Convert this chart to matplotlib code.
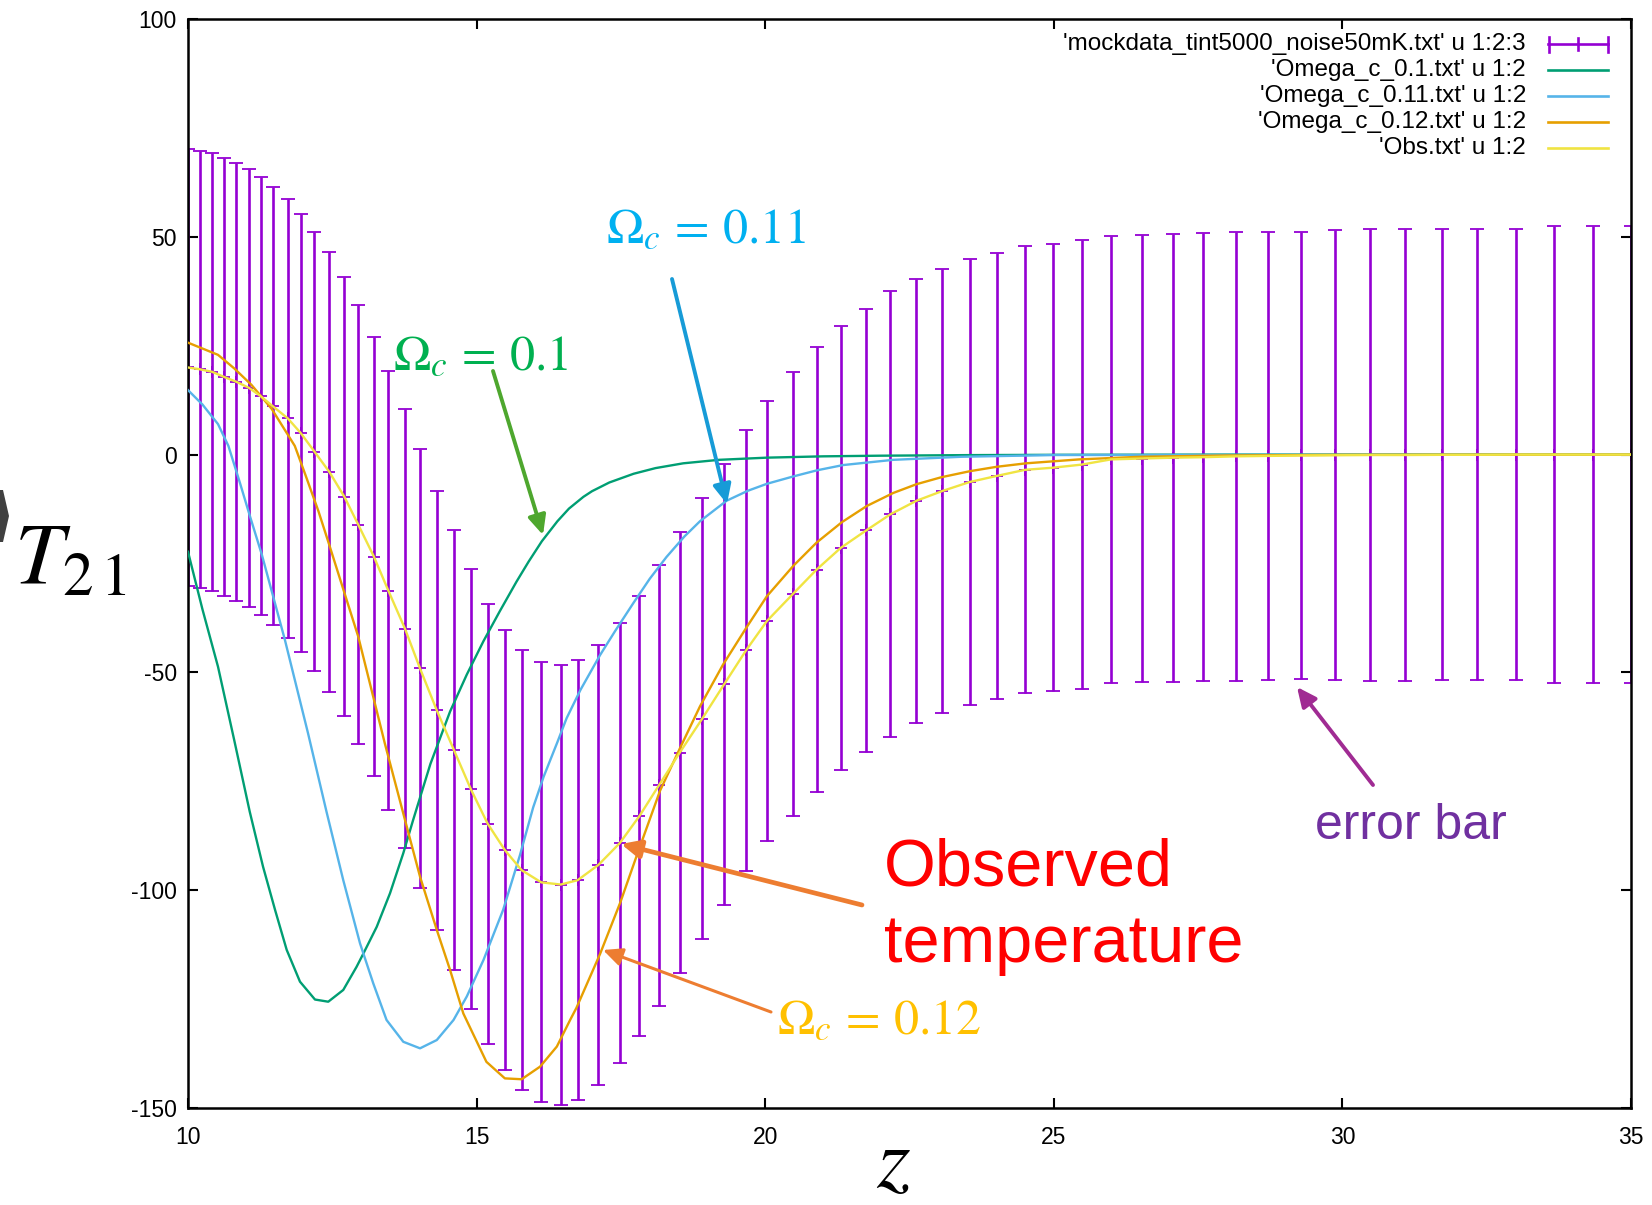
import matplotlib
matplotlib.use('Agg')
import matplotlib.pyplot as plt
from matplotlib.lines import Line2D
from matplotlib.patches import Polygon, FancyArrowPatch

W, H = 1652, 1205
plt.rcParams['axes.unicode_minus'] = False
plt.rcParams['mathtext.fontset'] = 'stix'
plt.rcParams['font.family'] = ['Liberation Sans', 'DejaVu Sans']

# ---------------- data ----------------
z_obs = [10.00, 10.20, 10.42, 10.63, 10.84, 11.06, 11.26, 11.47, 11.73, 11.95,
         12.19, 12.45, 12.71, 12.95, 13.22, 13.47, 13.76, 14.02, 14.31, 14.61,
         14.90, 15.19, 15.49, 15.78, 16.12, 16.46, 16.75, 17.11, 17.48, 17.82,
         18.16, 18.52, 18.91, 19.29, 19.67, 20.03, 20.48, 20.89, 21.31, 21.75,
         22.17, 22.62, 23.06, 23.54, 24.01, 24.50, 24.99, 25.48, 25.99, 26.52,
         27.07, 27.58, 28.16, 28.71, 29.29, 29.87, 30.48, 31.08, 31.72, 32.34,
         33.00, 33.67, 34.34, 35.00]
T_obs = [20.0, 19.6, 19.0, 17.8, 16.7, 15.3, 13.4, 11.1, 8.3, 5.0,
         0.7, -4.0, -9.7, -16.1, -23.4, -31.2, -40.0, -49.1, -58.7, -67.9,
         -76.8, -84.7, -90.8, -95.4, -98.2, -98.7, -97.7, -94.2, -89.2, -83.0,
         -75.9, -68.4, -60.6, -52.7, -44.9, -38.2, -32.0, -26.4, -21.4, -17.4,
         -13.7, -10.6, -8.4, -6.3, -4.9, -3.5, -3.0, -2.3, -1.1, -0.9,
         -0.7, -0.6, -0.4, -0.3, -0.2, -0.15, -0.1, -0.1, -0.05, -0.05,
         0.0, 0.0, 0.0, 0.0]
T_err = [50.2, 50.2, 50.2, 50.2, 50.2, 50.3, 50.3, 50.3, 50.3, 50.3,
         50.4, 50.4, 50.4, 50.4, 50.4, 50.4, 50.4, 50.4, 50.4, 50.5,
         50.5, 50.5, 50.5, 50.5, 50.5, 50.5, 50.5, 50.5, 50.5, 50.5,
         50.6, 50.6, 50.6, 50.6, 50.6, 50.6, 50.9, 51.0, 50.9, 50.9,
         51.2, 51.0, 51.0, 51.2, 51.1, 51.3, 51.3, 51.5, 51.3, 51.2,
         51.4, 51.4, 51.6, 51.4, 51.4, 51.6, 51.8, 51.8, 51.8, 51.8,
         51.8, 52.4, 52.4, 52.4]

z_g = [10.0, 10.25, 10.52, 10.8, 11.07, 11.30, 11.51, 11.71, 11.94, 12.20,
       12.43, 12.69, 12.92, 13.04, 13.27, 13.50, 13.73, 13.90, 14.20, 14.54,
       14.83, 15.12, 15.4, 15.69, 15.9, 16.13, 16.4, 16.6, 16.85, 17.0,
       17.3, 17.72, 18.1, 18.58, 19.2, 20.03, 21.0, 22.0, 23.5, 25.0,
       28.0, 35.0]
T_g = [-22.3, -35.5, -48.7, -65.5, -82.0, -94.6, -104.6, -113.7, -121.0, -125.1,
       -125.6, -122.9, -117.6, -114.5, -108.4, -100.7, -91.5, -83.9, -71.0, -59.0,
       -50.5, -42.8, -36.0, -29.2, -24.6, -19.9, -15.3, -12.4, -9.7, -8.4,
       -6.4, -4.4, -3.1, -2.0, -1.2, -0.7, -0.4, -0.25, -0.12, -0.05,
       0.0, 0.0]

z_b = [10.0, 10.25, 10.52, 10.7, 10.9, 11.07, 11.28, 11.68, 12.08, 12.40,
       12.69, 12.98, 13.21, 13.44, 13.73, 14.02, 14.31, 14.60, 14.83, 15.12,
       15.46, 15.75, 15.98, 16.16, 16.4, 16.56, 16.8, 17.14, 17.4, 17.72,
       18.0, 18.29, 18.6, 18.87, 19.33, 19.7, 20.03, 20.49, 20.9, 21.35,
       22.22, 23.4, 25.0, 35.0]
T_b = [14.8, 11.5, 7.0, 2.0, -6.5, -14.0, -23.0, -42.6, -64.0, -82.0,
       -97.7, -112.2, -121.4, -129.8, -134.8, -136.3, -134.4, -129.8, -124.4, -116.0,
       -104.5, -92.0, -81.0, -74.0, -66.0, -60.5, -54.0, -46.0, -40.5, -34.0,
       -28.5, -23.5, -18.8, -15.3, -10.6, -8.3, -6.7, -5.0, -3.6, -2.4,
       -1.2, -0.5, -0.1, 0.0]

z_o = [10.0, 10.52, 10.8, 11.1, 11.45, 11.85, 12.03, 12.26, 12.43, 12.95,
       13.41, 13.76, 14.02, 14.31, 14.54, 14.77, 15.17, 15.49, 15.78, 16.10,
       16.39, 16.62, 16.73, 17.14, 17.49, 17.80, 18.18, 18.52, 18.87, 19.27,
       19.68, 20.03, 20.49, 20.89, 21.33, 21.76, 22.22, 22.62, 23.05, 23.55,
       24.01, 24.52, 25.44, 26.5, 28.0, 30.0, 35.0]
T_o = [25.7, 22.9, 19.8, 16.0, 10.5, 2.0, -4.5, -13.0, -20.0, -41.8,
       -66.3, -83.9, -96.9, -109.1, -118.3, -128.3, -139.4, -143.2, -143.4, -140.5,
       -135.9, -129.8, -127.0, -114.6, -102.8, -91.1, -77.1, -67.5, -57.8, -48.2,
       -39.6, -32.5, -25.5, -20.2, -15.5, -11.8, -8.8, -6.8, -5.2, -3.8,
       -2.8, -2.0, -1.1, -0.5, -0.2, -0.05, 0.0]

x_ticks = [10, 15, 20, 25, 30, 35]
y_ticks = [-150, -100, -50, 0, 50, 100]
legend_labels = ["'mockdata_tint5000_noise50mK.txt' u 1:2:3",
                 "'Omega_c_0.1.txt' u 1:2",
                 "'Omega_c_0.11.txt' u 1:2",
                 "'Omega_c_0.12.txt' u 1:2",
                 "'Obs.txt' u 1:2"]

C_ERR = '#9400D3'
C_G = '#009E73'
C_B = '#56B4E9'
C_O = '#E69F00'
C_Y = '#F0E442'

# ---------------- figure ----------------
fig = plt.figure(figsize=(W / 100, H / 100), dpi=100)
fig.patch.set_facecolor('white')
ax = fig.add_axes([188 / W, 1 - 1108 / H, (1631 - 188) / W, (1108 - 19) / H])

ax.errorbar(z_obs, T_obs, yerr=T_err, fmt='+', color=C_ERR, ecolor=C_ERR,
            elinewidth=1.9, capsize=5, capthick=1.9, markersize=9, mew=1.3, zorder=2)
ax.plot(z_g, T_g, color=C_G, lw=1.7, zorder=3)
ax.plot(z_b, T_b, color=C_B, lw=1.7, zorder=3)
ax.plot(z_o, T_o, color=C_O, lw=1.7, zorder=3)
ax.plot(z_obs, T_obs, color=C_Y, lw=1.7, zorder=4)

ax.set_xlim(10, 35)
ax.set_ylim(-150, 100)
ax.set_xticks(x_ticks)
ax.set_xticklabels([str(t) for t in x_ticks])
ax.set_yticks(y_ticks)
ax.set_yticklabels([str(t) for t in y_ticks])
ax.tick_params(direction='in', length=7, width=1.5, top=True, right=True,
               labelsize=16.5)
ax.tick_params(axis='x', pad=13)
ax.tick_params(axis='y', pad=8)
for s in ax.spines.values():
    s.set_linewidth(1.8)


def fx(x):
    return x / W


def fy(y):
    return 1 - y / H


# ---------------- legend (gnuplot style) ----------------
rows = [44, 70, 96, 122, 148]
cols = [C_ERR, C_G, C_B, C_O, C_Y]
for i, (lab, yy) in enumerate(zip(legend_labels, rows)):
    fig.text(fx(1526), fy(yy), lab, ha='right', va='center', fontsize=17.5)
    if i == 0:
        fig.add_artist(Line2D([fx(1548), fx(1608)], [fy(yy), fy(yy)], color=C_ERR, lw=1.9,
                              transform=fig.transFigure))
        for xx, hh in [(1548.5, 7.5), (1607.5, 7.5), (1578, 6)]:
            fig.add_artist(Line2D([fx(xx), fx(xx)], [fy(yy - hh), fy(yy + hh)], color=C_ERR,
                                  lw=1.9, transform=fig.transFigure))
    else:
        fig.add_artist(Line2D([fx(1548), fx(1608)], [fy(yy), fy(yy)], color=cols[i], lw=1.9,
                              transform=fig.transFigure))

# ---------------- annotations ----------------
fig.text(fx(606), fy(242), r'$\Omega_c\,=\,0.11$', color='#00B0F0', fontsize=36, va='baseline')
fig.text(fx(393), fy(369), r'$\Omega_c\,=\,0.1$', color='#00B050', fontsize=36, va='baseline')
fig.text(fx(777), fy(1033), r'$\Omega_c\,=\,0.12$', color='#FFC000', fontsize=36, va='baseline')
fig.text(fx(884), fy(885), 'Observed', color='#FF0000', fontsize=48, va='baseline',
         family=['Liberation Sans'])
fig.text(fx(884), fy(962), 'temperature', color='#FF0000', fontsize=48, va='baseline',
         family=['Liberation Sans'])
fig.text(fx(1315), fy(839), 'error bar', color='#7030A0', fontsize=36, va='baseline',
         family=['Liberation Sans'])

fig.text(fx(14), fy(583), r'$T_{2\,1}$', fontsize=63, va='baseline', ha='left')
fig.text(fx(876), fy(1187), r'$z$', fontsize=62, va='baseline', ha='left')

# chevron fragment at left edge
fig.add_artist(Polygon([[fx(0), fy(490)], [fx(3), fy(490)], [fx(9), fy(516)],
                        [fx(3), fy(542)], [fx(0), fy(542)]], closed=True,
                       facecolor='#404040', edgecolor='none', transform=fig.transFigure))


def arrow(x0, y0, x1, y1, color, lw):
    fig.add_artist(FancyArrowPatch(
        (fx(x0), fy(y0)), (fx(x1), fy(y1)), transform=fig.transFigure,
        arrowstyle='-|>,head_length=0.58,head_width=0.27', mutation_scale=20,
        color=color, lw=lw, shrinkA=0, shrinkB=0))


arrow(493, 371, 543, 535, '#4EA72E', 2.8)
arrow(672, 279, 727, 504, '#179BD7', 2.8)
arrow(862, 905, 621, 844, '#ED7D31', 3.4)
arrow(771, 1012, 603, 950, '#ED7D31', 2.2)
arrow(1373, 785, 1297, 687, '#A02B93', 2.8)

fig.savefig('out.png', dpi=100, facecolor='white')
